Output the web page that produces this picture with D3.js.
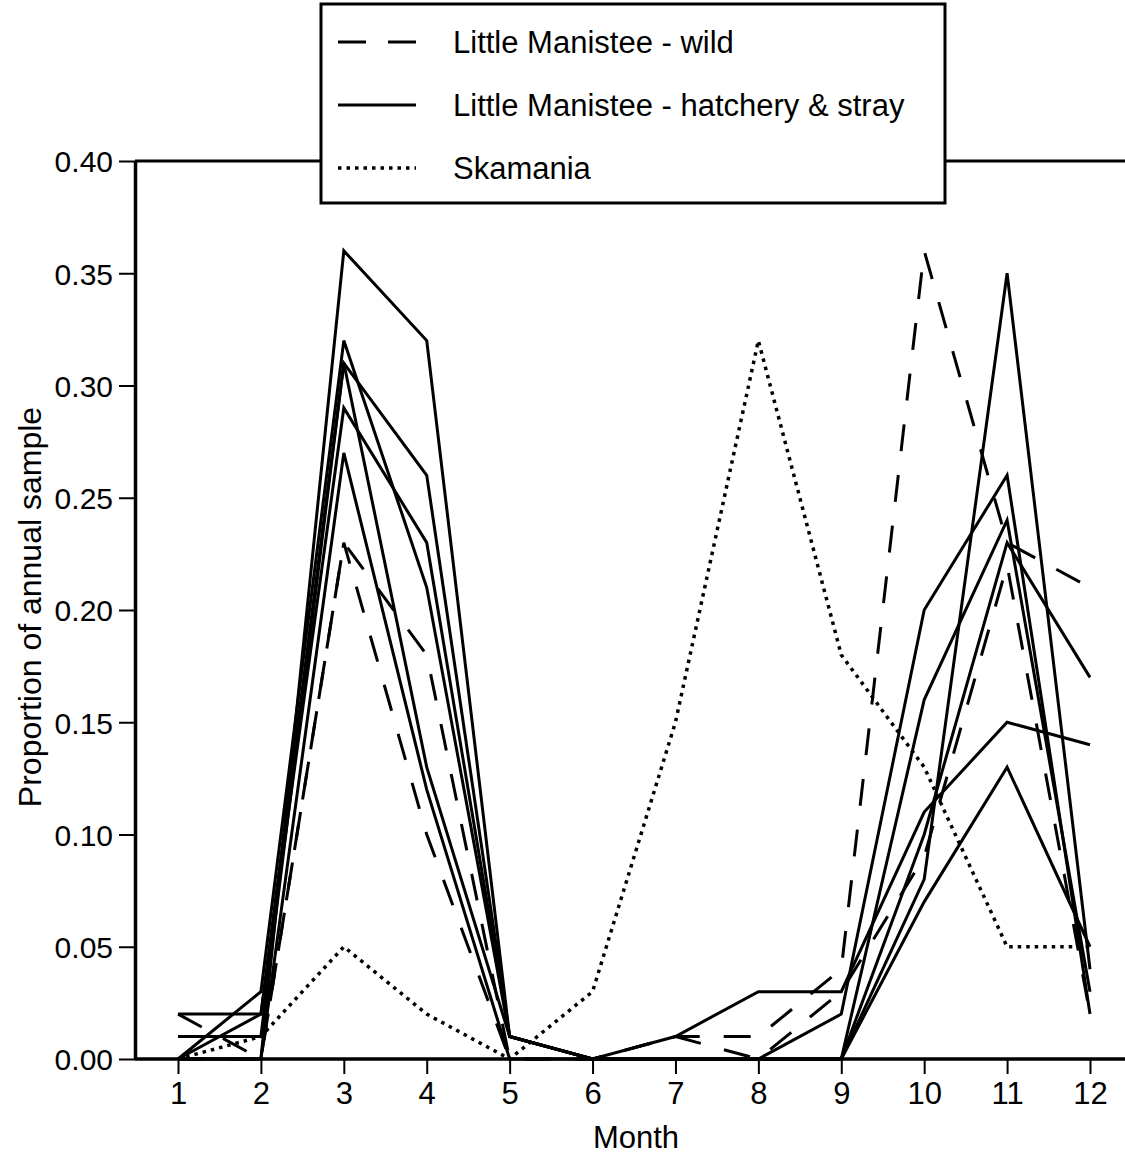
<!DOCTYPE html>
<meta charset="utf-8">
<html>
<head>
<script src="https://d3js.org/d3.v7.min.js"></script>
<style>
  body { margin: 0; background: #fff; }
  text { font-family: "Liberation Sans", Arial, sans-serif; fill: #000; }
</style>
</head>
<body>
<svg id="chart" width="1125" height="1155"></svg>
<script>
// months on the x axis
var months = [1, 2, 3, 4, 5, 6, 7, 8, 9, 10, 11, 12];
var yTicks = [0, 0.05, 0.10, 0.15, 0.20, 0.25, 0.30, 0.35, 0.40];

// Little Manistee - wild (one array per year)
var wild1 = [0.02, 0.00, 0.23, 0.10, 0.00, 0.00, 0.01, 0.01, 0.04, 0.36, 0.23, 0.21];
var wild2 = [0.00, 0.00, 0.23, 0.18, 0.00, 0.00, 0.01, 0.00, 0.03, 0.09, 0.22, 0.02];

// Little Manistee - hatchery & stray (one array per year)
var hatch1 = [0.00, 0.00, 0.36, 0.32, 0.01, 0.00, 0.00, 0.00, 0.00, 0.08, 0.35, 0.04];
var hatch2 = [0.00, 0.03, 0.32, 0.21, 0.01, 0.00, 0.01, 0.03, 0.03, 0.11, 0.15, 0.14];
var hatch3 = [0.02, 0.02, 0.31, 0.26, 0.01, 0.00, 0.00, 0.00, 0.02, 0.20, 0.26, 0.02];
var hatch4 = [0.01, 0.01, 0.31, 0.13, 0.01, 0.00, 0.00, 0.00, 0.00, 0.16, 0.24, 0.03];
var hatch5 = [0.00, 0.02, 0.29, 0.23, 0.01, 0.00, 0.00, 0.00, 0.00, 0.10, 0.23, 0.17];
var hatch6 = [0.00, 0.00, 0.27, 0.12, 0.00, 0.00, 0.00, 0.00, 0.00, 0.07, 0.13, 0.05];

// Skamania
var skamania = [0.00, 0.01, 0.05, 0.02, 0.00, 0.03, 0.15, 0.32, 0.18, 0.13, 0.05, 0.05];

var legendLabels = ["Little Manistee - wild", "Little Manistee - hatchery & stray", "Skamania"];

function drawChart() {
    var svg = d3.select("#chart");

    var x = d3.scaleLinear().domain([1, 12]).range([178, 1090]);
    var y = d3.scaleLinear().domain([0, 0.4]).range([1059, 161]);
    var axisX = 135, rightEdge = 1125;

    var styles = {
        wild: { dash: "27,24", width: 3 },
        hatch: { dash: null, width: 3 },
        skam: { dash: "3.5,5", width: 3.5 }
    };

    var series = [
        { kind: "hatch", values: hatch1 },
        { kind: "hatch", values: hatch2 },
        { kind: "hatch", values: hatch3 },
        { kind: "hatch", values: hatch4 },
        { kind: "hatch", values: hatch5 },
        { kind: "hatch", values: hatch6 },
        { kind: "wild", values: wild1 },
        { kind: "wild", values: wild2 },
        { kind: "skam", values: skamania }
    ];

    var line = d3.line()
        .x(function(d, i) { return x(months[i]); })
        .y(function(d) { return y(d); });

    // data lines
    svg.append("g")
        .selectAll("path")
        .data(series)
        .enter()
        .append("path")
            .attr("d", function(d) { return line(d.values); })
            .attr("fill", "none")
            .attr("stroke", "#000")
            .attr("stroke-width", function(d) { return styles[d.kind].width; })
            .attr("stroke-dasharray", function(d) { return styles[d.kind].dash; })
            .attr("stroke-linejoin", "miter");

    // frame: top line and baseline run off the right edge
    svg.append("line")
        .attr("x1", axisX).attr("x2", rightEdge)
        .attr("y1", y(0.4)).attr("y2", y(0.4))
        .attr("stroke", "#000").attr("stroke-width", 3);
    svg.append("line")
        .attr("x1", axisX).attr("x2", rightEdge)
        .attr("y1", y(0)).attr("y2", y(0))
        .attr("stroke", "#000").attr("stroke-width", 3.5);

    // y axis
    var gy = svg.append("g")
        .attr("transform", "translate(" + axisX + ",0)")
        .call(d3.axisLeft(y)
            .tickValues(yTicks)
            .tickFormat(d3.format(".2f"))
            .tickSize(16)
            .tickSizeOuter(0)
            .tickPadding(6));
    gy.select(".domain").attr("stroke-width", 3.5);
    gy.selectAll(".tick line").attr("stroke-width", 2);
    gy.selectAll(".tick text")
        .style("font-size", "30px")
        .attr("dy", "0.36em");

    // x axis (baseline drawn above)
    var gx = svg.append("g")
        .attr("transform", "translate(0," + y(0) + ")")
        .call(d3.axisBottom(x)
            .tickValues(months)
            .tickFormat(d3.format("d"))
            .tickSize(15)
            .tickPadding(8));
    gx.select(".domain").remove();
    gx.selectAll(".tick line").attr("stroke-width", 2);
    gx.selectAll(".tick text")
        .style("font-size", "31px");

    // axis titles
    svg.append("text")
        .attr("x", 636).attr("y", 1148)
        .attr("text-anchor", "middle")
        .style("font-size", "31px")
        .text("Month");

    svg.append("text")
        .attr("transform", "translate(41,607) rotate(-90)")
        .attr("text-anchor", "middle")
        .style("font-size", "32px")
        .text("Proportion of annual sample");

    // legend
    var leg = svg.append("g");
    leg.append("rect")
        .attr("x", 321).attr("y", 4)
        .attr("width", 624).attr("height", 199)
        .attr("fill", "#fff")
        .attr("stroke", "#000").attr("stroke-width", 3);

    var legendKinds = ["wild", "hatch", "skam"];
    var legendDash = { wild: "28,22", hatch: null, skam: "3.5,5" };
    var rowY = [42, 105, 168];

    leg.selectAll("line.sample")
        .data(legendKinds)
        .enter()
        .append("line")
            .attr("class", "sample")
            .attr("x1", 338).attr("x2", 416)
            .attr("y1", function(d, i) { return rowY[i]; })
            .attr("y2", function(d, i) { return rowY[i]; })
            .attr("stroke", "#000")
            .attr("stroke-width", function(d) { return styles[d].width; })
            .attr("stroke-dasharray", function(d) { return legendDash[d]; });

    leg.selectAll("text")
        .data(legendLabels)
        .enter()
        .append("text")
            .attr("x", 453)
            .attr("y", function(d, i) { return rowY[i] + 11; })
            .style("font-size", "31px")
            .text(function(d) { return d; });
}

drawChart();
</script>
</body>
</html>
